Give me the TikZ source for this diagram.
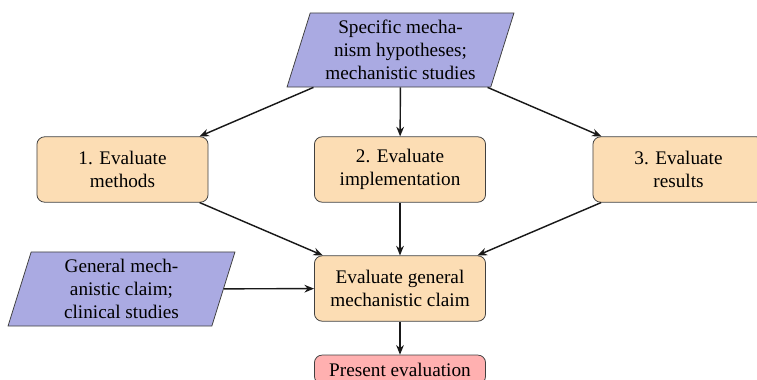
\documentclass[tikz,border=0pt]{standalone}
\usepackage{fontspec}
\setmainfont{Liberation Serif}
\usetikzlibrary{shapes.geometric,arrows.meta}
\definecolor{paracol}{RGB}{170,170,226}
\definecolor{proccol}{RGB}{252,221,180}
\definecolor{prescol}{RGB}{255,176,176}
\begin{document}
\begin{tikzpicture}[x=0.52pt,y=-0.52pt,
  io/.style={trapezium, trapezium left angle=70, trapezium right angle=110,
    trapezium stretches body, draw=black!75, fill=paracol, line width=0.4pt,
    minimum width=118pt, minimum height=38.5pt, align=center, inner sep=1pt},
  proc/.style={rectangle, rounded corners=4pt, draw=black!75, fill=proccol,
    line width=0.4pt, minimum width=89pt, minimum height=34pt, align=center},
  pres/.style={rectangle, rounded corners=4pt, draw=black!75, fill=prescol,
    line width=0.4pt, minimum width=89pt, minimum height=15pt, inner sep=1pt, align=center},
  arr/.style={-{Stealth[length=5pt,width=4pt]}, line width=0.75pt, draw=black!90}]
\clip (0,0) rectangle (757,380);
\node[io] (spec) at (400.5,50) {Specific mecha-\\nism hypotheses;\\mechanistic studies};
\node[proc] (m) at (122.5,169.5) {1. Evaluate\\methods};
\node[proc] (i) at (400,169.5) {2. Evaluate\\implementation};
\node[proc] (r) at (678.5,169.5) {3. Evaluate\\results};
\node[proc] (g) at (400,288.5) {Evaluate general\\mechanistic claim};
\node[io] (gen) at (121.5,289) {General mech-\\anistic claim;\\clinical studies};
\node[pres] (p) at (400,369.5) {Present evaluation};
\draw[arr] (spec) -- (m);
\draw[arr] (spec) -- (i);
\draw[arr] (spec) -- (r);
\draw[arr] (m) -- (g);
\draw[arr] (i) -- (g);
\draw[arr] (r) -- (g);
\draw[arr] (gen) -- (g);
\draw[arr] (g) -- (p);
\end{tikzpicture}
\end{document}
